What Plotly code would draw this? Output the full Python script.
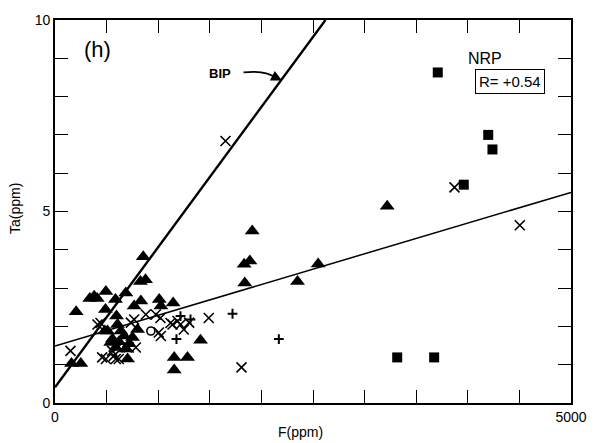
import plotly.graph_objects as go

# ---- data ----
tri_x = [205, 160, 250, 337, 409, 380, 493, 489, 586, 686, 596, 606, 509, 638, 557, 670,
         751, 800, 589, 686, 703, 483, 767, 832, 855, 828, 877, 1010, 1026, 1145, 1410,
         1155, 1284, 1155, 1911, 1888, 1833, 1839, 2350, 2550, 3219, 540, 620, 720]
tri_y = [2.38, 1.03, 1.03, 2.73, 2.73, 2.79, 2.91, 2.44, 2.70, 2.87, 2.27, 2.05, 1.88, 1.88, 1.67, 1.75,
         1.71, 1.92, 1.45, 1.41, 1.15, 1.88, 2.53, 2.66, 3.82, 3.17, 3.22, 2.70, 2.53, 2.61, 1.64,
         1.19, 1.19, 0.86, 4.49, 3.71, 3.62, 3.13, 3.17, 3.63, 5.14, 1.58, 1.60, 1.55]

crs_x = [150, 412, 441, 457, 493, 554, 570, 589, 618, 606, 715, 735, 767, 783, 880, 977,
         1006, 1026, 1022, 1119, 1139, 1187, 1216, 1248, 1300, 1490, 1807, 1652, 3871, 4504]
crs_y = [1.36, 2.05, 2.09, 1.19, 1.15, 1.36, 1.23, 1.15, 1.15, 1.45, 1.45, 2.10, 2.18, 1.45, 2.31, 2.31,
         1.84, 1.75, 2.22, 2.09, 2.05, 2.14, 2.05, 1.92, 2.10, 2.22, 0.93, 6.84, 5.63, 4.64]

plus_x = [1177, 1216, 1313, 1720, 2169]
plus_y = [1.67, 2.27, 2.18, 2.33, 1.67]

circ_x = [929]
circ_y = [1.88]

sq_x = [3709, 4198, 4239, 3961, 3316, 3674]
sq_y = [8.63, 7.00, 6.62, 5.70, 1.19, 1.19]

# regression lines (intercept, slope)
bip_line = (0.41, 0.003659)
nrp_line = (1.49, 0.000802)

x_ticks = list(range(0, 5001, 500))
x_ticktext = ["0"] + [""] * 9 + ["5000"]
y_ticks = list(range(0, 11))
y_ticktext = ["0", "", "", "", "", "5", "", "", "", "", "10"]

X_MAX, Y_MAX = 5000, 10

fig = go.Figure()

b0, b1 = bip_line
x_end = min(X_MAX, (Y_MAX - b0) / b1)
fig.add_trace(go.Scatter(x=[0, x_end], y=[b0, b0 + b1 * x_end], mode="lines",
                         line=dict(color="black", width=2.4), hoverinfo="skip"))
n0, n1 = nrp_line
fig.add_trace(go.Scatter(x=[0, X_MAX], y=[n0, n0 + n1 * X_MAX], mode="lines",
                         line=dict(color="black", width=1.5), hoverinfo="skip"))

fig.add_trace(go.Scatter(x=crs_x, y=crs_y, mode="markers",
                         marker=dict(symbol="x-thin-open", size=10, color="black",
                                     line=dict(color="black", width=1.6))))
fig.add_trace(go.Scatter(x=plus_x, y=plus_y, mode="markers",
                         marker=dict(symbol="cross-thin-open", size=7, color="black",
                                     line=dict(color="black", width=2))))
fig.add_trace(go.Scatter(x=circ_x, y=circ_y, mode="markers",
                         marker=dict(symbol="circle-open", size=8, color="black",
                                     line=dict(color="black", width=1.6))))
fig.add_trace(go.Scatter(x=tri_x, y=tri_y, mode="markers",
                         marker=dict(symbol="triangle-up", size=13, color="black",
                                     line=dict(width=0))))
fig.add_trace(go.Scatter(x=sq_x, y=sq_y, mode="markers",
                         marker=dict(symbol="square", size=10, color="black",
                                     line=dict(width=0))))

font = "Liberation Sans, Arial, sans-serif"
axis_common = dict(showline=True, linecolor="black", linewidth=1.8, mirror="ticks",
                   ticks="inside", ticklen=13, tickwidth=1.3, tickcolor="black",
                   showgrid=False, zeroline=False,
                   tickfont=dict(family=font, size=14, color="black"))

W, H = 599, 443
L, R, T, B = 55, 28, 16, 40

fig.update_layout(
    width=W, height=H,
    margin=dict(l=L, r=R, t=T, b=B),
    paper_bgcolor="white", plot_bgcolor="white",
    showlegend=False,
    xaxis=dict(range=[0, X_MAX], tickvals=x_ticks, ticktext=x_ticktext, **axis_common),
    yaxis=dict(range=[0, Y_MAX], tickvals=y_ticks, ticktext=y_ticktext, **axis_common),
)

# curved arrow for BIP label
fig.add_shape(type="path", xref="x", yref="y",
              path="M 1827 8.63 Q 2049 8.70 2150 8.47",
              line=dict(color="black", width=1.8))
fig.add_annotation(x=2200, y=8.42, ax=2140, ay=8.50, axref="x", ayref="y", xref="x", yref="y",
                   text="", showarrow=True, arrowhead=2, arrowsize=1.2, arrowwidth=1.8,
                   arrowcolor="black")

pw, ph = W - L - R, H - T - B

def paper_xy(px, py):
    return (px - L) / pw, 1 - (py - T) / ph

ann = [
    dict(px=97, py=46, text="(h)", size=22),
    dict(px=220, py=70, text="<b>BIP</b>", size=13),
    dict(px=485, py=55, text="NRP", size=16),
]
for a in ann:
    x, y = paper_xy(a["px"], a["py"])
    fig.add_annotation(x=x, y=y, xref="paper", yref="paper", text=a["text"], showarrow=False,
                       xanchor="center", yanchor="middle",
                       font=dict(family=font, size=a["size"], color="black"))

x, y = paper_xy(510, 78)
fig.add_annotation(x=x, y=y, xref="paper", yref="paper", text="R= +0.54", showarrow=False,
                   xanchor="center", yanchor="middle", bordercolor="black", borderwidth=1,
                   borderpad=3, bgcolor="white",
                   font=dict(family=font, size=15, color="black"))

x, y = paper_xy(300, 432)
fig.add_annotation(x=x, y=y, xref="paper", yref="paper", text="F(ppm)", showarrow=False,
                   xanchor="center", yanchor="middle",
                   font=dict(family=font, size=14, color="black"))
x, y = paper_xy(15, 207)
fig.add_annotation(x=x, y=y, xref="paper", yref="paper", text="Ta(ppm)", showarrow=False,
                   textangle=-90, xanchor="center", yanchor="middle",
                   font=dict(family=font, size=14, color="black"))

fig.write_html("out.html", config={"displayModeBar": False},
               post_script="document.body.style.margin='0';")
